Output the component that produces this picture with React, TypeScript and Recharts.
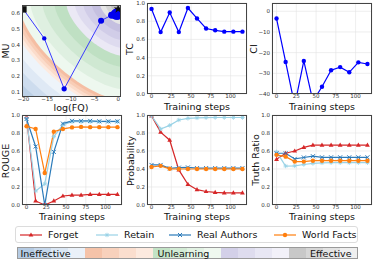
import { LineChart, Line, XAxis, YAxis, CartesianGrid, ScatterChart, Scatter } from 'recharts';

// training checkpoints
const steps = [0, 11.5, 23, 34.5, 46, 57.5, 69, 80.5, 92, 103.5, 115];
const stepTicks = [0, 25, 50, 75, 100];

// MU vs log(FQ) trajectory
const logFq = [-20, -15.6, -11.4, -3.6, -1.4, -0.8, -0.5, -0.3, -0.2, -0.4, -0.1];
const mu = [0.625, 0.44, 0.118, 0.553, 0.588, 0.592, 0.595, 0.59, 0.598, 0.594, 0.596];
const refLogFq = [0];
const refMu = [0.628];
const fqTicks = [-20, -15, -10, -5, 0];
const muTicks = [0.1, 0.2, 0.3, 0.4, 0.5, 0.6];

const tc = [0.935, 0.68, 0.895, 0.68, 0.945, 0.83, 0.72, 0.7, 0.685, 0.685, 0.685];
const ci = [-3.5, -24.5, -45.5, -24, -43.5, -36.5, -28.5, -27, -29.5, -24.7, -25.5];
const ciTicks = [-40, -30, -20, -10, 0];
const unitTicks = [0, 0.2, 0.4, 0.6, 0.8, 1.0];

const rougeForget = [0.975, 0.045, 0.0, 0.045, 0.1, 0.11, 0.11, 0.118, 0.118, 0.118, 0.118];
const rougeRetain = [0.96, 0.155, 0.235, 0.76, 0.89, 0.925, 0.925, 0.925, 0.925, 0.925, 0.925];
const rougeReal = [0.955, 0.65, 0.0, 0.59, 0.905, 0.935, 0.935, 0.935, 0.93, 0.93, 0.93];
const rougeWorld = [0.875, 0.845, 0.355, 0.815, 0.845, 0.862, 0.868, 0.865, 0.865, 0.865, 0.865];

const probForget = [0.99, 0.81, 0.72, 0.39, 0.23, 0.17, 0.15, 0.14, 0.135, 0.135, 0.135];
const probRetain = [0.99, 0.845, 0.885, 0.945, 0.963, 0.968, 0.97, 0.972, 0.972, 0.972, 0.972];
const probReal = [0.445, 0.445, 0.408, 0.415, 0.418, 0.41, 0.41, 0.41, 0.41, 0.41, 0.41];
const probWorld = [0.422, 0.435, 0.402, 0.4, 0.4, 0.4, 0.4, 0.4, 0.4, 0.4, 0.4];

const truthForget = [0.507, 0.575, 0.6, 0.64, 0.665, 0.665, 0.665, 0.665, 0.665, 0.665, 0.665];
const truthRetain = [0.59, 0.433, 0.435, 0.45, 0.462, 0.468, 0.47, 0.47, 0.47, 0.47, 0.47];
const truthReal = [0.575, 0.575, 0.512, 0.528, 0.542, 0.53, 0.53, 0.53, 0.53, 0.53, 0.53];
const truthWorld = [0.557, 0.537, 0.482, 0.482, 0.492, 0.492, 0.492, 0.492, 0.492, 0.492, 0.492];

const seriesNames = ['Forget', 'Retain', 'Real Authors', 'World Facts'];
const scaleLabels = ['Ineffective', 'Unlearning', 'Effective'];

// styling
const FONT = '"DejaVu Sans", sans-serif';
const COLORS = ['#d62728', '#9ad3e6', '#2b7bba', '#ff7f0e'];
const MARKERS = ['tri', 'star', 'x', 'circle'];
// colour scale cells, left to right
const SCALE_COLORS = [
  '#b5cbe3', '#c6d8ec', '#dbe7f4', '#eaf1f9',
  '#f5c3a9', '#f8d1bc', '#fbdece', '#fdeadf',
  '#c3e3c6', '#d3ebd5', '#e2f2e3', '#eff8ef',
  '#d3d0e8', '#dedcee', '#e8e7f4', '#f2f1f9',
  '#c8c8c8', '#d6d6d6', '#e3e3e3', '#efefef',
];
// background regions of the MU / log(FQ) panel, outermost to corner
const PANEL_BANDS = [
  '#bcd0e6', '#cddcee', '#dfe9f5', '#eef4fa',
  '#fdeadf', '#fbdccb', '#f8cdb6', '#f5bea3',
  '#eef8ef', '#dff0e1', '#cfe8d2', '#bfe0c3',
  '#ebe9f5', '#dedbef', '#d1cde8', '#c5c0e0',
  '#e6e6e6', '#d4d4d4', '#c2c2c2', '#b0b0b0',
];
const BAND_LEVELS = [1.482, 1.378, 1.274, 1.17, 1.1358, 1.1016, 1.0674, 1.0332, 0.9124, 0.7916, 0.6708, 0.55, 0.465, 0.38, 0.295, 0.21, 0.1575, 0.105, 0.0525];
const P = 1.5;

const YW = 21;
const MT = 3;
const MR = 3;
const XH = 9;
const tickStyle = { fontSize: 5.5, fill: '#333', fontFamily: FONT };

const minus = (s: string) => s.replace('-', '\u2212');

type Rect = { x: number; y: number; w: number; h: number };

function Marker({ kind, cx, cy, color }: { kind: string; cx: number; cy: number; color: string }) {
  if (cx == null || cy == null) return <g />;
  if (kind === 'tri') {
    return <polygon points={`${cx},${cy - 2.6} ${cx - 2.4},${cy + 1.6} ${cx + 2.4},${cy + 1.6}`} fill={color} />;
  }
  if (kind === 'x') {
    return <path d={`M${cx - 2},${cy - 2}L${cx + 2},${cy + 2}M${cx - 2},${cy + 2}L${cx + 2},${cy - 2}`} stroke={color} strokeWidth={1} />;
  }
  if (kind === 'star') {
    return (
      <path
        d={`M${cx - 2.2},${cy}L${cx + 2.2},${cy}M${cx},${cy - 2.2}L${cx},${cy + 2.2}M${cx - 1.5},${cy - 1.5}L${cx + 1.5},${cy + 1.5}M${cx - 1.5},${cy + 1.5}L${cx + 1.5},${cy - 1.5}`}
        stroke={color}
        strokeWidth={0.9}
      />
    );
  }
  return <circle cx={cx} cy={cy} r={2.2} fill={color} />;
}

function Frame({ rect }: { rect: Rect }) {
  return (
    <div
      style={{
        position: 'absolute',
        left: YW,
        top: MT,
        width: rect.w,
        height: rect.h,
        border: '0.8px solid #444',
        boxSizing: 'border-box',
        pointerEvents: 'none',
      }}
    />
  );
}

function Title({ x, y, text, rotate = false }: { x: number; y: number; text: string; rotate?: boolean }) {
  return (
    <div
      style={{
        position: 'absolute',
        left: x,
        top: y,
        transform: `translate(-50%, -50%)${rotate ? ' rotate(-90deg)' : ''}`,
        whiteSpace: 'nowrap',
        fontSize: 9.5,
        lineHeight: '10px',
        color: '#111',
      }}
    >
      {text}
    </div>
  );
}

type LineDef = { key: string; values: number[]; color: string; marker: string };

function MetricPanel({ rect, lines, domain, ticks, fmt }: { rect: Rect; lines: LineDef[]; domain: [number, number]; ticks: number[]; fmt: (v: number) => string }) {
  const rows = steps.map((s, i) => {
    const row: Record<string, number> = { step: s };
    lines.forEach((l) => (row[l.key] = l.values[i]));
    return row;
  });
  return (
    <div style={{ position: 'absolute', left: rect.x - YW, top: rect.y - MT }}>
      <LineChart width={YW + rect.w + MR} height={MT + rect.h + XH} data={rows} margin={{ top: MT, right: MR, left: 0, bottom: 0 }}>
        <CartesianGrid stroke="#e2e2e2" strokeWidth={0.6} />
        <XAxis type="number" dataKey="step" domain={[-5.75, 120.75]} allowDataOverflow ticks={stepTicks} interval={0} height={XH} tickLine={false} tickSize={0} axisLine={false} tick={tickStyle} tickMargin={0} />
        <YAxis type="number" domain={domain} allowDataOverflow ticks={ticks} interval={0} width={YW} tickLine={false} tickSize={0} axisLine={false} tick={tickStyle} tickMargin={2} tickFormatter={fmt} />
        {lines.map((l) => (
          <Line
            key={l.key}
            type="linear"
            dataKey={l.key}
            stroke={l.color}
            strokeWidth={1.2}
            dot={(p: any) => <Marker key={p.index} kind={l.marker} cx={p.cx} cy={p.cy} color={l.color} />}
            isAnimationActive={false}
          />
        ))}
      </LineChart>
      <Frame rect={rect} />
    </div>
  );
}

// region closer to the top-right corner than level t (superellipse metric)
function bandPath(t: number, w: number, h: number) {
  const parts = [`M${w},0`];
  for (let i = 0; i <= 48; i++) {
    const a = (Math.PI / 2) * (i / 48);
    const dx = w * t * Math.pow(Math.cos(a), 2 / P);
    const dy = h * t * Math.pow(Math.sin(a), 2 / P);
    parts.push(`L${(w - dx).toFixed(2)},${dy.toFixed(2)}`);
  }
  return parts.join(' ') + ' Z';
}

function TrajDot(p: any) {
  const { cx, cy, payload } = p;
  if (cx == null) return <g />;
  if (payload.step === 0) return <rect x={cx - 3.2} y={cy - 3.2} width={6.4} height={6.4} fill="#111" />;
  return <circle cx={cx} cy={cy} r={1.8 + payload.step / 28} fill="#0000ee" />;
}

function StarDot(p: any) {
  const { cx, cy } = p;
  if (cx == null) return <g />;
  const pts: string[] = [];
  for (let i = 0; i < 10; i++) {
    const r = i % 2 === 0 ? 4.6 : 1.9;
    const a = -Math.PI / 2 + (i * Math.PI) / 5;
    pts.push(`${(cx + r * Math.cos(a)).toFixed(2)},${(cy + r * Math.sin(a)).toFixed(2)}`);
  }
  return <polygon points={pts.join(' ')} fill="#111" />;
}

function TradeoffPanel({ rect }: { rect: Rect }) {
  const traj = logFq.map((x, i) => ({ fq: x, mu: mu[i], step: steps[i] }));
  const ref = refLogFq.map((x, i) => ({ fq: x, mu: refMu[i] }));
  return (
    <div style={{ position: 'absolute', left: rect.x - YW, top: rect.y - MT }}>
      <svg width={rect.w} height={rect.h} style={{ position: 'absolute', left: YW, top: MT, overflow: 'hidden' }}>
        <rect x={0} y={0} width={rect.w} height={rect.h} fill={PANEL_BANDS[0]} />
        {BAND_LEVELS.map((t, i) => (
          <path key={i} d={bandPath(t, rect.w, rect.h)} fill={PANEL_BANDS[i + 1]} />
        ))}
      </svg>
      <ScatterChart width={YW + rect.w + MR} height={MT + rect.h + XH} margin={{ top: MT, right: MR, left: 0, bottom: 0 }} style={{ position: 'relative' }}>
        <XAxis type="number" dataKey="fq" domain={[-20.3, 0.6]} allowDataOverflow ticks={fqTicks} interval={0} height={XH} tickLine={false} tickSize={0} axisLine={false} tick={tickStyle} tickMargin={0} tickFormatter={(v: number) => minus(String(v))} />
        <YAxis type="number" dataKey="mu" domain={[0.066, 0.653]} allowDataOverflow ticks={muTicks} interval={0} width={YW} tickLine={false} tickSize={0} axisLine={false} tick={tickStyle} tickMargin={2} tickFormatter={(v: number) => v.toFixed(1)} />
        <Scatter data={traj} line={{ stroke: '#3a3aff', strokeWidth: 1 }} shape={TrajDot} isAnimationActive={false} />
        <Scatter data={ref} shape={StarDot} isAnimationActive={false} />
      </ScatterChart>
      <Frame rect={rect} />
    </div>
  );
}

const fmt1 = (v: number) => v.toFixed(1);
const fmtInt = (v: number) => minus(String(v));

function groupLines(values: number[][]): LineDef[] {
  return values.map((v, i) => ({ key: `s${i}`, values: v, color: COLORS[i], marker: MARKERS[i] }));
}

function Legend() {
  const slots = [4, 80, 153, 258];
  return (
    <div
      style={{
        position: 'absolute',
        left: 15,
        top: 225.5,
        width: 343,
        height: 17,
        border: '1px solid #dcdcdc',
        borderRadius: 3,
        boxSizing: 'border-box',
      }}
    >
      {seriesNames.map((name, i) => (
        <div key={name} style={{ position: 'absolute', left: slots[i], top: 2, height: 12, display: 'flex', alignItems: 'center' }}>
          <svg width={22} height={8}>
            <line x1={0} y1={4} x2={22} y2={4} stroke={COLORS[i]} strokeWidth={1.2} />
            <Marker kind={MARKERS[i]} cx={11} cy={4} color={COLORS[i]} />
          </svg>
          <span style={{ marginLeft: 6, fontSize: 9.5, color: '#111', lineHeight: '12px' }}>{name}</span>
        </div>
      ))}
    </div>
  );
}

function ColorScale() {
  return (
    <div
      style={{
        position: 'absolute',
        left: 16.5,
        top: 247,
        width: 341,
        height: 12,
        border: '0.8px solid #9a9a9a',
        boxSizing: 'border-box',
        display: 'flex',
      }}
    >
      {SCALE_COLORS.map((c, i) => (
        <div key={i} style={{ flex: 1, background: c }} />
      ))}
      <span style={{ position: 'absolute', left: 3, top: -0.5, fontSize: 9.5, lineHeight: '12px', color: '#111' }}>{scaleLabels[0]}</span>
      <span style={{ position: 'absolute', left: 140, top: -0.5, fontSize: 9.5, lineHeight: '12px', color: '#111' }}>{scaleLabels[1]}</span>
      <span style={{ position: 'absolute', right: 5, top: -0.5, fontSize: 9.5, lineHeight: '12px', color: '#111' }}>{scaleLabels[2]}</span>
    </div>
  );
}

export default function App() {
  const r1: Rect = { x: 22, y: 5, w: 99, h: 92 };
  const r2: Rect = { x: 146.5, y: 3.4, w: 100, h: 91 };
  const r3: Rect = { x: 271.5, y: 3.4, w: 100, h: 91 };
  const r4: Rect = { x: 21.5, y: 115, w: 100, h: 90 };
  const r5: Rect = { x: 146.5, y: 115, w: 100, h: 90 };
  const r6: Rect = { x: 271.5, y: 115, w: 100, h: 90 };

  return (
    <div style={{ position: 'absolute', left: 0, top: 0, width: 374, height: 260, background: '#fff', overflow: 'hidden', fontFamily: FONT }}>
      <TradeoffPanel rect={r1} />
      <MetricPanel rect={r2} lines={[{ key: 'tc', values: tc, color: '#0000ff', marker: 'circle' }]} domain={[0, 1]} ticks={unitTicks} fmt={fmt1} />
      <MetricPanel rect={r3} lines={[{ key: 'ci', values: ci, color: '#0000ff', marker: 'circle' }]} domain={[-40, 4]} ticks={ciTicks} fmt={fmtInt} />
      <MetricPanel rect={r4} lines={groupLines([rougeForget, rougeRetain, rougeReal, rougeWorld])} domain={[0, 1]} ticks={unitTicks} fmt={fmt1} />
      <MetricPanel rect={r5} lines={groupLines([probForget, probRetain, probReal, probWorld])} domain={[0, 1]} ticks={unitTicks} fmt={fmt1} />
      <MetricPanel rect={r6} lines={groupLines([truthForget, truthRetain, truthReal, truthWorld])} domain={[0, 1]} ticks={unitTicks} fmt={fmt1} />

      <Title x={6} y={51} text="MU" rotate />
      <Title x={71} y={107.5} text="log(FQ)" />
      <Title x={130} y={49} text="TC" rotate />
      <Title x={197} y={106.5} text="Training steps" />
      <Title x={254} y={49} text="CI" rotate />
      <Title x={322} y={106.5} text="Training steps" />
      <Title x={6} y={161} text="ROUGE" rotate />
      <Title x={131} y={161} text="Probability" rotate />
      <Title x={256} y={160} text="Truth Ratio" rotate />
      <Title x={72} y={216.5} text="Training steps" />
      <Title x={197} y={216.5} text="Training steps" />
      <Title x={322} y={216.5} text="Training steps" />

      <Legend />
      <ColorScale />
    </div>
  );
}
